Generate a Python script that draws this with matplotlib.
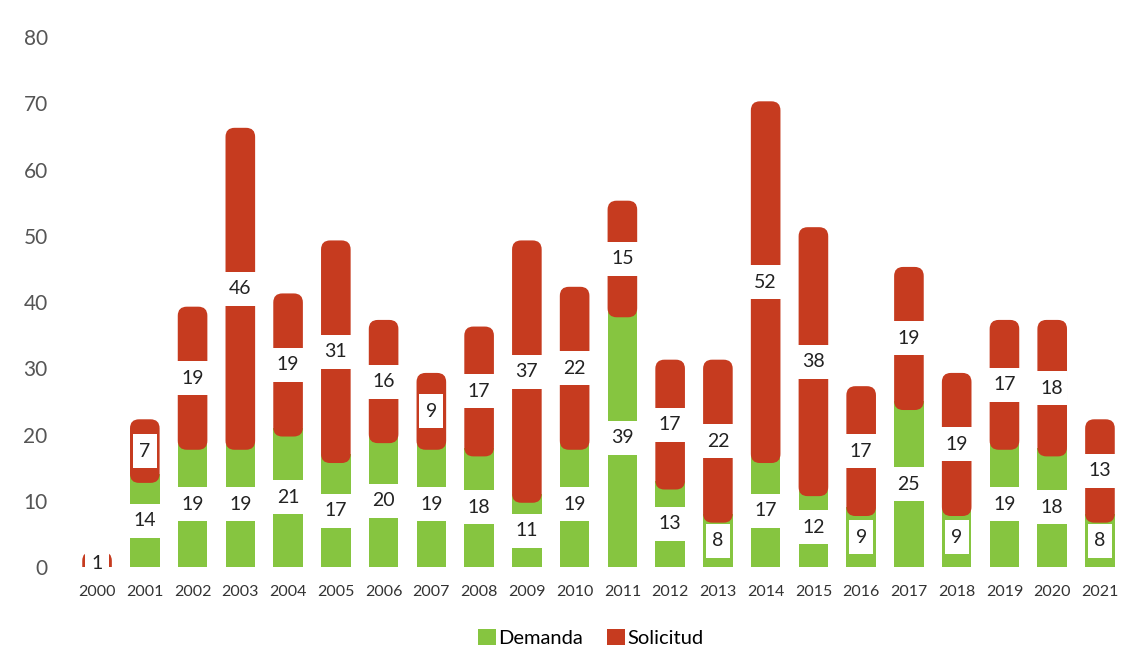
import matplotlib

matplotlib.use("agg")
import matplotlib.pyplot as plt
from matplotlib.patches import FancyBboxPatch, Rectangle, Patch

plt.rcParams["font.family"] = ["Lato", "DejaVu Sans"]

years = ["2000", "2001", "2002", "2003", "2004", "2005", "2006", "2007",
         "2008", "2009", "2010", "2011", "2012", "2013", "2014", "2015",
         "2016", "2017", "2018", "2019", "2020", "2021"]
demanda = [0, 14, 19, 19, 21, 17, 20, 19, 18, 11, 19, 39, 13, 8, 17, 12,
           9, 25, 9, 19, 18, 8]
solicitud = [1, 7, 19, 46, 19, 31, 16, 9, 17, 37, 22, 15, 17, 22, 52, 38,
             17, 19, 19, 17, 18, 13]

green = "#86c540"
red = "#c63b1f"

fig = plt.figure(figsize=(11.47, 6.70), dpi=100)
ax = fig.add_axes([0.0513, 0.1537, 0.941, 0.791])
ax.set_xlim(-0.8, len(years) - 0.2)
ax.set_ylim(0, 80)

# pixels per data unit, used to keep rounded corners circular
px_x = 47.76
px_y = 6.625
aspect = px_x / px_y

w = 0.62
ext = 1.3  # the red caps reach a little past their segment

x = list(range(len(years)))
ax.bar(x, demanda, width=w, color=green, zorder=2)

for i, (d, s) in enumerate(zip(demanda, solicitud)):
    p = FancyBboxPatch((i - w / 2, d - ext), w, s + 2 * ext,
                       boxstyle="round,pad=0,rounding_size=0.19",
                       mutation_aspect=aspect,
                       facecolor=red, edgecolor="none", zorder=3)
    ax.add_patch(p)


def label(xc, yc, val):
    # one-digit labels get a narrower box, so the bar shows at its sides
    bw = w + 0.02 if val >= 10 else w - 0.12
    bh = 34 / px_y
    ax.add_patch(Rectangle((xc - bw / 2, yc - bh / 2), bw, bh,
                           facecolor="white", edgecolor="none", zorder=4,
                           clip_on=False))
    ax.text(xc, yc, str(val), ha="center", va="center", fontsize=14,
            color="#222222", zorder=5, clip_on=False)


for i, (d, s) in enumerate(zip(demanda, solicitud)):
    if d > 0:
        label(i, d / 2, d)
    if s > 0:
        label(i, d + s / 2, s)

ax.set_xticks(x)
ax.set_xticklabels(years)
ax.set_yticks(range(0, 81, 10))
ax.tick_params(axis="x", length=0, pad=13, labelsize=11.5, labelcolor="#333333")
ax.tick_params(axis="y", length=0, pad=8, labelsize=15, labelcolor="#555555")
for sp in ax.spines.values():
    sp.set_visible(False)

handles = [Patch(facecolor=green, label="Demanda"),
           Patch(facecolor=red, label="Solicitud")]
fig.legend(handles=handles, loc="center", bbox_to_anchor=(0.515, 0.048),
           ncol=2, frameon=False, fontsize=14.5, handlelength=0.9,
           handleheight=0.9, handletextpad=0.1, columnspacing=1.2)

plt.savefig("out.png", dpi=100)
